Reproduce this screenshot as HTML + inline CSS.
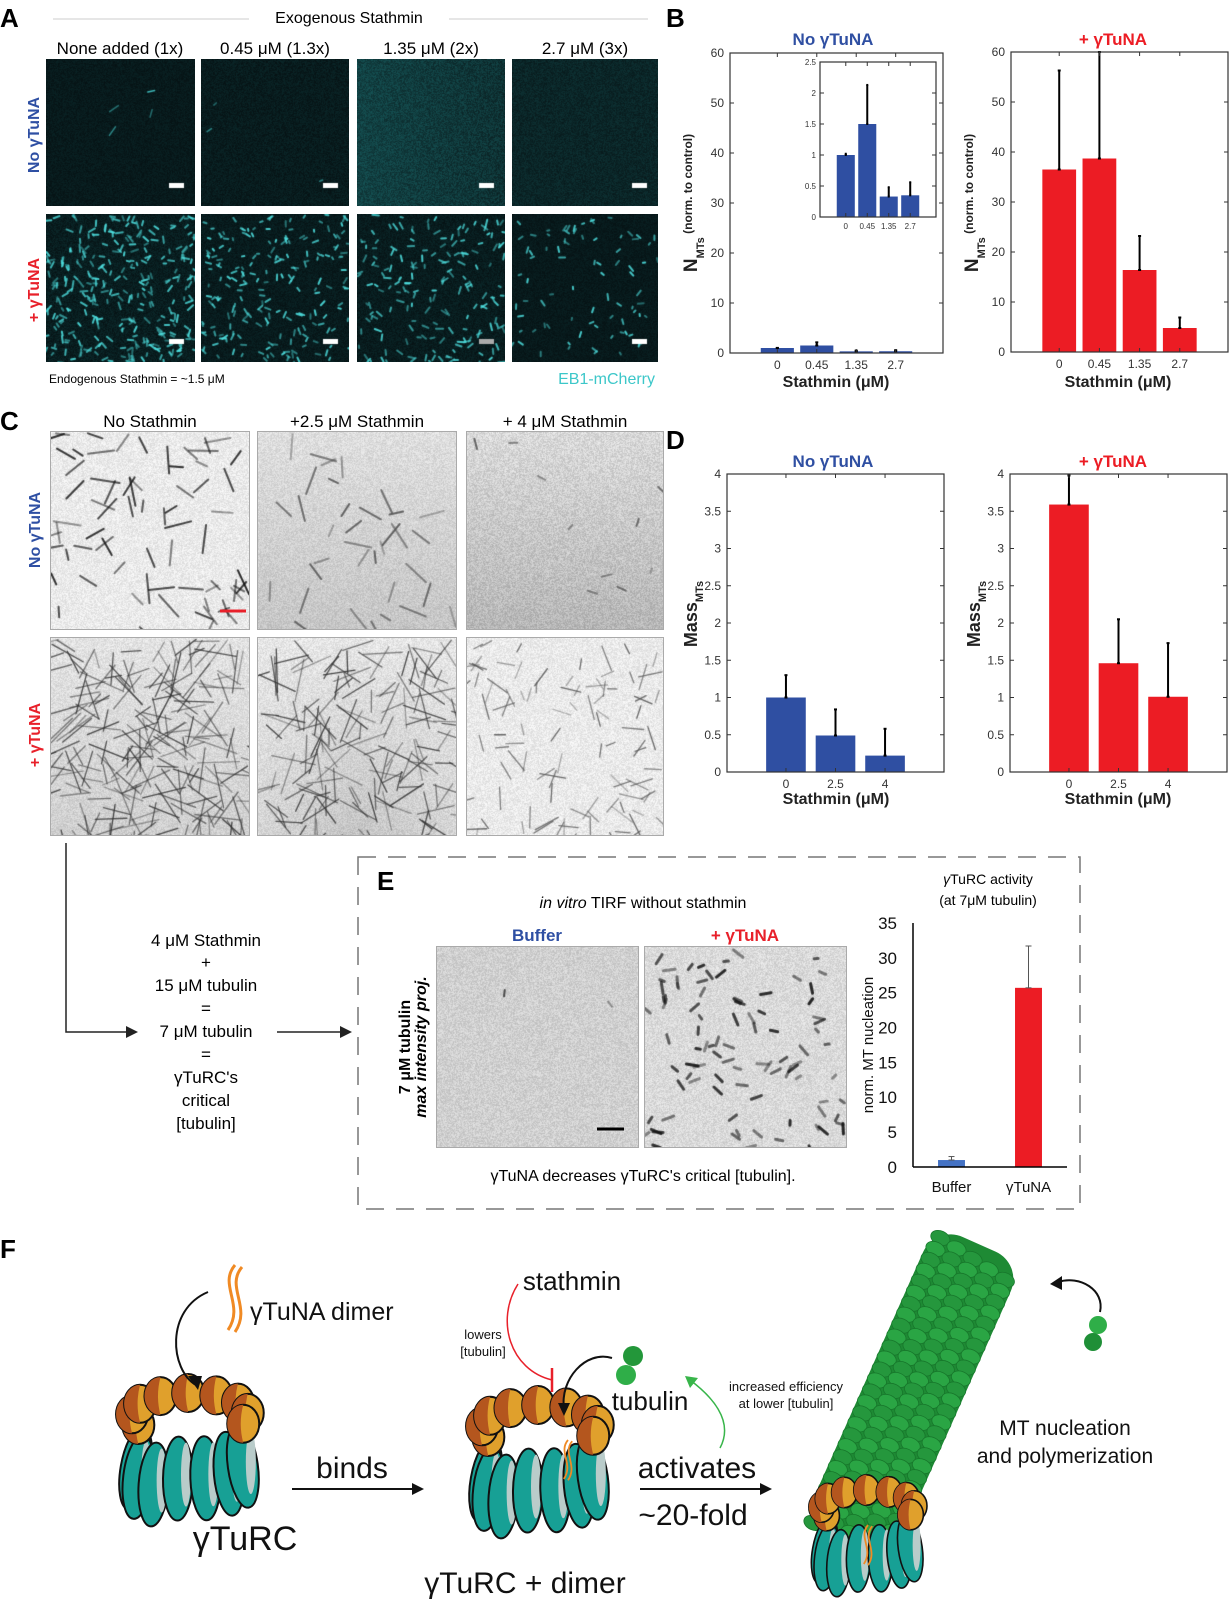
<!DOCTYPE html>
<html><head><meta charset="utf-8">
<style>
html,body{margin:0;padding:0;background:#fff;}
#root{position:relative;width:1231px;height:1599px;overflow:hidden;font-family:"Liberation Sans",sans-serif;}
canvas{position:absolute;}
svg{position:absolute;left:0;top:0;}
</style></head>
<body>
<div id="root">
<canvas id="a00" width="149" height="147" style="left:46px;top:59px"></canvas>
<canvas id="a01" width="148" height="147" style="left:201px;top:59px"></canvas>
<canvas id="a02" width="148" height="147" style="left:357px;top:59px"></canvas>
<canvas id="a03" width="146" height="147" style="left:512px;top:59px"></canvas>
<canvas id="a10" width="149" height="148" style="left:46px;top:214px"></canvas>
<canvas id="a11" width="148" height="148" style="left:201px;top:214px"></canvas>
<canvas id="a12" width="148" height="148" style="left:357px;top:214px"></canvas>
<canvas id="a13" width="146" height="148" style="left:512px;top:214px"></canvas>
<canvas id="c00" width="198" height="197" style="left:51px;top:432px;outline:1px solid #aaa"></canvas>
<canvas id="c01" width="198" height="197" style="left:258px;top:432px;outline:1px solid #aaa"></canvas>
<canvas id="c02" width="196" height="197" style="left:467px;top:432px;outline:1px solid #aaa"></canvas>
<canvas id="c10" width="198" height="197" style="left:51px;top:638px;outline:1px solid #aaa"></canvas>
<canvas id="c11" width="198" height="197" style="left:258px;top:638px;outline:1px solid #aaa"></canvas>
<canvas id="c12" width="196" height="197" style="left:467px;top:638px;outline:1px solid #aaa"></canvas>
<canvas id="e0" width="201" height="200" style="left:437px;top:947px;outline:1px solid #aaa"></canvas>
<canvas id="e1" width="201" height="200" style="left:645px;top:947px;outline:1px solid #aaa"></canvas>
<svg id="svg" width="1231" height="1599" viewBox="0 0 1231 1599" font-family="Liberation Sans, sans-serif">
<text x="0" y="27" font-size="26" font-weight="bold">A</text>
<line x1="53" y1="19" x2="249" y2="19" stroke="#ccc"/>
<line x1="449" y1="19" x2="648" y2="19" stroke="#ccc"/>
<text x="349" y="23" font-size="16" text-anchor="middle">Exogenous Stathmin</text>
<text x="120" y="54" font-size="17" text-anchor="middle">None added (1x)</text>
<text x="275" y="54" font-size="17" text-anchor="middle">0.45 μM (1.3x)</text>
<text x="431" y="54" font-size="17" text-anchor="middle">1.35 μM (2x)</text>
<text x="585" y="54" font-size="17" text-anchor="middle">2.7 μM (3x)</text>
<text transform="translate(39,135) rotate(-90)" font-size="16" font-weight="bold" fill="#2e4fa3" text-anchor="middle">No γTuNA</text>
<text transform="translate(39,290) rotate(-90)" font-size="16" font-weight="bold" fill="#e8202a" text-anchor="middle">+ γTuNA</text>
<text x="49" y="383" font-size="12">Endogenous Stathmin = ~1.5 μM</text>
<text x="655" y="384" font-size="16" fill="#3cc7c9" text-anchor="end">EB1-mCherry</text>
<text x="666" y="27" font-size="26" font-weight="bold">B</text>
<text x="0" y="430" font-size="26" font-weight="bold">C</text>
<text x="666" y="449" font-size="26" font-weight="bold">D</text>
<text x="150" y="427" font-size="17" text-anchor="middle">No Stathmin</text>
<text x="357" y="427" font-size="17" text-anchor="middle">+2.5 μM Stathmin</text>
<text x="565" y="427" font-size="17" text-anchor="middle">+ 4 μM Stathmin</text>
<text transform="translate(40,530) rotate(-90)" font-size="16" font-weight="bold" fill="#2e4fa3" text-anchor="middle">No γTuNA</text>
<text transform="translate(40,735) rotate(-90)" font-size="16" font-weight="bold" fill="#e8202a" text-anchor="middle">+ γTuNA</text>
<line x1="220" y1="611" x2="246" y2="611" stroke="#e8202a" stroke-width="3"/>
<polyline points="66,843 66,1032 130,1032" fill="none" stroke="#222" stroke-width="1.5"/>
<polygon points="138,1032 126,1026 126,1038" fill="#222"/>
<line x1="277" y1="1032" x2="344" y2="1032" stroke="#222" stroke-width="1.5"/>
<polygon points="352,1032 340,1026 340,1038" fill="#222"/>
<g font-size="17" text-anchor="middle">
<text x="206" y="946">4 μM Stathmin</text><text x="206" y="968">+</text><text x="206" y="991">15 μM tubulin</text><text x="206" y="1014">=</text><text x="206" y="1037">7 μM tubulin</text><text x="206" y="1060">=</text><text x="206" y="1083">γTuRC's</text><text x="206" y="1106">critical</text><text x="206" y="1129">[tubulin]</text>
</g>
<rect x="358" y="857" width="722" height="352" fill="none" stroke="#777" stroke-width="1.5" stroke-dasharray="18,12"/>
<text x="377" y="890" font-size="26" font-weight="bold">E</text>
<text x="643" y="908" font-size="16" text-anchor="middle"><tspan font-style="italic">in vitro</tspan> TIRF without stathmin</text>
<text x="537" y="941" font-size="17" font-weight="bold" fill="#2e4fa3" text-anchor="middle">Buffer</text>
<text x="745" y="941" font-size="17" font-weight="bold" fill="#e8202a" text-anchor="middle">+ γTuNA</text>
<text transform="translate(410,1047) rotate(-90)" font-size="16" font-weight="bold" text-anchor="middle">7 μM tubulin</text>
<text transform="translate(426,1047) rotate(-90)" font-size="16" font-weight="bold" font-style="italic" text-anchor="middle">max intensity proj.</text>
<line x1="597" y1="1129" x2="624" y2="1129" stroke="#000" stroke-width="3"/>
<text x="643" y="1181" font-size="16" text-anchor="middle">γTuNA decreases γTuRC's critical [tubulin].</text>
<text x="988" y="884" font-size="14" text-anchor="middle"><tspan font-style="italic">γ</tspan>TuRC activity</text>
<text x="988" y="905" font-size="14" text-anchor="middle">(at 7μM tubulin)</text>
<g id="charts"></g>
<text x="0" y="1258" font-size="26" font-weight="bold">F</text>
<g id="diagram"></g>
</svg>
</div>
<script>
const bCats = ['0','0.45','1.35','2.7'];
const bNoVals = [1.0, 1.5, 0.33, 0.35];
const bNoErr = [1.02, 2.13, 0.48, 0.56];
const bPlusVals = [36.5, 38.7, 16.4, 4.8];
const bPlusErr = [56.3, 60.0, 23.2, 6.9];
const bTicks = [0,10,20,30,40,50,60];
const insetTicks = [0,0.5,1,1.5,2,2.5];
const dCats = ['0','2.5','4'];
const dNoVals = [1.0, 0.49, 0.22];
const dNoErr = [1.3, 0.84, 0.58];
const dPlusVals = [3.59, 1.46, 1.01];
const dPlusErr = [3.98, 2.05, 1.73];
const dTicks = [0,0.5,1,1.5,2,2.5,3,3.5,4];
const eCats = ['Buffer','γTuNA'];
const eVals = [1.0, 25.7];
const eErr = [1.5, 31.7];
const eTicks = [0,5,10,15,20,25,30,35];

const NS='http://www.w3.org/2000/svg';
const BLUE='#2f4fa2', RED='#ec1c24';
function mk(tag, attrs, parent){const e=document.createElementNS(NS,tag);for(const k in attrs)e.setAttribute(k,attrs[k]);if(parent)parent.appendChild(e);return e;}
const charts=document.getElementById('charts');

function barChart(o, cats, vals, errs, ticks){
  const g=mk('g',{},charts);
  
  
  const sx=v=>o.x0+(v-o.xmin)/(o.xmax-o.xmin)*(o.x1-o.x0);
  const sy=v=>o.y1-(v-o.ymin)/(o.ymax-o.ymin)*(o.y1-o.y0);
  if(o.inset){ mk('rect',{x:o.x0,y:o.y0,width:o.x1-o.x0,height:o.y1-o.y0,fill:'#fff'},g); }
  cats.forEach((c,i)=>{
    const xc=sx(i+(o.first||1));
    const bw=(sx(o.bw)-sx(0));
    const r=mk('rect',{x:xc-bw/2,y:sy(vals[i]),width:bw,height:sy(0)-sy(vals[i]),fill:o.colors?o.colors[i]:o.color},g);
    
    
    const el=mk('line',{x1:xc,x2:xc,y1:sy(vals[i]),y2:sy(errs[i]),stroke:o.errColor||'#000','stroke-width':o.errW||2},g);
    
    
    mk('line',{x1:xc-(o.cap||1.5),x2:xc+(o.cap||1.5),y1:sy(errs[i]),y2:sy(errs[i]),stroke:o.errColor||'#000','stroke-width':o.errW||2},g);
    mk('line',{x1:xc-(o.cap||1.5),x2:xc+(o.cap||1.5),y1:sy(vals[i]),y2:sy(vals[i]),stroke:o.errColor||'#000','stroke-width':o.errW||2},g);
    const t=mk('text',{x:xc,y:o.y1+o.xlOff,'font-size':o.xfs,'text-anchor':'middle',fill:o.tickColor||'#333'},g);
    t.textContent=c;
    
    
    if(o.box){
      mk('line',{x1:xc,x2:xc,y1:o.y1,y2:o.y1-4,stroke:'#333'},g);
      mk('line',{x1:xc,x2:xc,y1:o.y0,y2:o.y0+4,stroke:'#333'},g);
    }
  });
  ticks.forEach(v=>{
    const y=sy(v);
    const t=mk('text',{x:o.x0-o.ylOff,y:y+o.yfs*0.35,'font-size':o.yfs,'text-anchor':'end',fill:o.tickColor||'#333'},g);
    t.textContent=String(v);
    
    
    if(o.box){
      mk('line',{x1:o.x0,x2:o.x0+4,y1:y,y2:y,stroke:'#333'},g);
      mk('line',{x1:o.x1,x2:o.x1-4,y1:y,y2:y,stroke:'#333'},g);
    }
  });
  if(o.box){
    const b=mk('rect',{x:o.x0,y:o.y0,width:o.x1-o.x0,height:o.y1-o.y0,fill:'none',stroke:'#333','stroke-width':1.2},g);
    
    
  } else {
    mk('line',{x1:o.x0,x2:o.x0,y1:o.y0,y2:o.y1,stroke:'#000','stroke-width':1.5},g);
    mk('line',{x1:o.x0,x2:o.x1,y1:o.y1,y2:o.y1,stroke:'#000','stroke-width':1.5},g);
  }
  return g;
}

function title(x,y,txt,color,name){const t=mk('text',{x:x,y:y,'font-size':17,'font-weight':'bold','text-anchor':'middle',fill:color},charts);t.textContent=txt;
  
  }
function xlabel(x,y,name){const t=mk('text',{x:x,y:y,'font-size':16,'font-weight':'bold','text-anchor':'middle',fill:'#222'},charts);t.textContent='Stathmin (μM)';
  
  }
function nlabel(x,y,name){
  const t=mk('text',{transform:`translate(${x},${y}) rotate(-90)`,'text-anchor':'middle',fill:'#222','font-weight':'bold'},charts);
  t.innerHTML='<tspan font-size="19">N</tspan><tspan font-size="11" dy="7">MTs</tspan><tspan font-size="12" dy="-12"> (norm. to control)</tspan>';
  
  
}
function masslabel(x,y,name){
  const t=mk('text',{transform:`translate(${x},${y}) rotate(-90)`,'text-anchor':'middle',fill:'#222','font-weight':'bold'},charts);
  t.innerHTML='<tspan font-size="18">Mass</tspan><tspan font-size="11" dy="6">MTs</tspan>';
  
  
}

title(833,45,'No γTuNA',BLUE,'b-title-no-ytuna');
title(1113,45,'+ γTuNA',RED,'b-title-ytuna');
barChart({name:'chart-b-no-ytuna',x0:730,x1:943,y0:53,y1:353,xmin:-0.2,xmax:5.2,ymin:0,ymax:60,bw:0.84,color:BLUE,box:true,xfs:12,yfs:12,xlOff:16,ylOff:6,cap:1.5,errW:2},bCats,bNoVals,bNoErr,bTicks);
barChart({name:'chart-b-inset',inset:true,x0:820,x1:936,y0:62,y1:217,xmin:-0.2,xmax:5.2,ymin:0,ymax:2.5,bw:0.84,color:BLUE,box:true,xfs:8,yfs:8,xlOff:12,ylOff:4,cap:1,errW:2},bCats,bNoVals,bNoErr,insetTicks);
barChart({name:'chart-b-ytuna',x0:1011,x1:1228,y0:52,y1:352,xmin:-0.2,xmax:5.2,ymin:0,ymax:60,bw:0.84,color:RED,box:true,xfs:12,yfs:12,xlOff:16,ylOff:6,cap:1.5,errW:2},bCats,bPlusVals,bPlusErr,bTicks);
nlabel(697,203,'b-y-axis-title-1');
nlabel(978,203,'b-y-axis-title-2');
xlabel(836,387,'b-x-axis-title-1');
xlabel(1118,387,'b-x-axis-title-2');
title(833,467,'No γTuNA',BLUE,'d-title-no-ytuna');
title(1113,467,'+ γTuNA',RED,'d-title-ytuna');
barChart({name:'chart-d-no-ytuna',x0:727,x1:944,y0:474,y1:772,xmin:-0.19,xmax:4.19,ymin:0,ymax:4,bw:0.8,color:BLUE,box:true,xfs:12,yfs:12,xlOff:16,ylOff:6,cap:1.5,errW:2},dCats,dNoVals,dNoErr,dTicks);
barChart({name:'chart-d-ytuna',x0:1010,x1:1227,y0:474,y1:772,xmin:-0.19,xmax:4.19,ymin:0,ymax:4,bw:0.8,color:RED,box:true,xfs:12,yfs:12,xlOff:16,ylOff:6,cap:1.5,errW:2},dCats,dPlusVals,dPlusErr,dTicks);
masslabel(697,614,'d-y-axis-title-1');
masslabel(980,614,'d-y-axis-title-2');
xlabel(836,804,'d-x-axis-title-1');
xlabel(1118,804,'d-x-axis-title-2');
barChart({name:'chart-e-activity',x0:913,x1:1067,y0:923,y1:1167,xmin:0,xmax:2,first:0.5,ymin:0,ymax:35,bw:0.35,colors:['#4472c4',RED],box:false,xfs:15,yfs:17,xlOff:25,ylOff:16,cap:3,errW:1,errColor:'#555',tickColor:'#111'},eCats,eVals,eErr,eTicks);
(function(){const t=mk('text',{transform:'translate(873,1045) rotate(-90)','font-size':15,'text-anchor':'middle',fill:'#111'},charts);t.textContent='norm. MT nucleation';

})();

function rng(seed){let s=seed>>>0;return ()=>{s=(s*1664525+1013904223)>>>0;return s/4294967296;};}
function texture(id, seed, bg, noiseAmp, noiseCol, streaks, streakCol, len, width, dark, gradient){
  const c=document.getElementById(id), ctx=c.getContext('2d'), W=c.width, H=c.height, R=rng(seed);
  const img=ctx.createImageData(W,H);
  for(let y=0;y<H;y++)for(let x=0;x<W;x++){
    const i=(y*W+x)*4; let n=R()*noiseAmp;
    let gfac=gradient?gradient(x/W,y/H):0;
    for(let k=0;k<3;k++){img.data[i+k]=Math.max(0,Math.min(255,bg[k]+ (dark?-1:1)*(n+gfac)*noiseCol[k]));}
    img.data[i+3]=255;
  }
  ctx.putImageData(img,0,0);
  ctx.strokeStyle=streakCol; ctx.lineWidth=width; ctx.lineCap='round';
  for(let s=0;s<streaks;s++){
    const x=R()*W,y=R()*H,a=R()*Math.PI,l=len*(0.4+R()*0.8);
    ctx.globalAlpha=0.4+R()*0.5;
    ctx.beginPath();ctx.moveTo(x,y);ctx.lineTo(x+Math.cos(a)*l,y+Math.sin(a)*l);ctx.stroke();
  }
  ctx.globalAlpha=1;
  return ctx;
}
const teal=[6,18,20], tn=[0.2,0.9,0.9];
texture('a00',1,teal,18,tn,4,'#48d6d6',9,1.5,false);
texture('a01',2,teal,22,tn,3,'#48d6d6',5,1.5,false);
texture('a02',3,[10,32,34],40,tn,0,'#48d6d6',5,1.5,false,(x,y)=>18*(1-x));
texture('a03',4,[8,26,28],26,tn,0,'#48d6d6',5,1.5,false);
texture('a10',5,teal,25,tn,300,'#4ee0e0',6,2,false);
texture('a11',6,teal,20,tn,210,'#4ee0e0',5,2,false);
texture('a12',7,teal,22,tn,180,'#4ee0e0',6,2,false);
texture('a13',8,teal,16,tn,80,'#4ee0e0',5,2,false);
[['a00',0],['a01',0],['a02',0],['a03',0],['a10',0],['a11',0],['a12',1],['a13',0]].forEach(([id,g])=>{
  const c=document.getElementById(id),ctx=c.getContext('2d');ctx.fillStyle=g?'#aaa':'#fff';ctx.fillRect(c.width-26,c.height-23,15,5);});
const wb=[252,252,252], gn=[1,1,1];
texture('c00',11,wb,35,gn,70,'#111',25,2,true);
texture('c01',12,[240,240,240],35,gn,35,'#555',24,2,true,(x,y)=>25*y);
texture('c02',13,[240,240,240],45,gn,10,'#555',10,2,true,(x,y)=>35*y);
texture('c10',14,[245,245,245],35,gn,210,'#333',40,1.3,true,(x,y)=>20*y);
texture('c11',15,[248,248,248],35,gn,160,'#333',38,1.3,true,(x,y)=>35*y*(1-Math.abs(x-0.5)));
texture('c12',16,wb,35,gn,100,'#555',22,1.3,true);
texture('e0',21,[228,228,228],40,gn,2,'#333',6,2,true);
texture('e1',22,[238,238,238],40,gn,90,'#111',10,3,true);

const D=document.getElementById('diagram');
function txt(x,y,s,fs,name,anchor,color){const t=mk('text',{x:x,y:y,'font-size':fs,'text-anchor':anchor||'middle',fill:color||'#111'},D);t.textContent=s;
  
  return t;}
function ring(cx,cy,sc,name){
  const g=mk('g',{transform:`translate(${cx},${cy}) scale(${sc})`},D);
  
  
  for(let i=0;i<7;i++){
    const a=Math.PI*(1.05-i*0.16);
    const x=55*Math.cos(a), y=10+18*Math.sin(a)+ (i<3?10:0);
    mk('ellipse',{cx:x,cy:y+18,rx:15,ry:42,fill:'#17a095',stroke:'#111','stroke-width':2,transform:`rotate(${10-i*3},${x},${y+18})`},g);
    mk('ellipse',{cx:x+8,cy:y+14,rx:5,ry:32,fill:'#b9ccca'},g);
  }
  for(let i=0;i<9;i++){
    const a=Math.PI*(1.15-i*0.16);
    const x=58*Math.cos(a), y=-18-22*Math.sin(a);
    mk('ellipse',{cx:x,cy:y,rx:16,ry:19,fill:'#e0a02c',stroke:'#111','stroke-width':2},g);
    mk('path',{d:`M${x},${y-19} A16,19 0 0,0 ${x},${y+19} Q${x-5},${y} ${x},${y-19}Z`,fill:'#b4561e'},g);
  }
  return g;
}
ring(190,1433,1,'ytrc-ring-1');
ring(540,1445,1,'ytrc-ring-2');
function dimer(x,y,s,name){const g=mk('g',{transform:`translate(${x},${y}) scale(${s})`,fill:'none',stroke:'#f08a24','stroke-width':3},D);
  
  
  mk('path',{d:'M5,0 C-12,20 15,40 -2,65'},g);mk('path',{d:'M12,2 C-5,22 22,42 5,67'},g);}
dimer(230,1265,1,'ytuna-dimer-icon');
dimer(565,1440,0.6,'ytuna-dimer-bound');
txt(250,1320,'γTuNA dimer',25,'ytuna-dimer-label','start');
mk('path',{d:'M208,1292 C165,1310 170,1370 196,1385',fill:'none',stroke:'#111','stroke-width':2},D);
mk('polygon',{points:'198,1390 188,1376 202,1376',fill:'#111'},D);
txt(245,1550,'γTuRC',34,'ytrc-label');
txt(352,1478,'binds',30,'binds-label');
mk('line',{x1:292,y1:1489,x2:414,y2:1489,stroke:'#111','stroke-width':2},D);
mk('polygon',{points:'424,1489 412,1483 412,1495',fill:'#111'},D);
txt(525,1593,'γTuRC + dimer',30,'ytrc-dimer-label');
txt(572,1290,'stathmin',26,'stathmin-label');
mk('path',{d:'M518,1284 C495,1320 510,1370 552,1380',fill:'none',stroke:'#e8202a','stroke-width':1.5},D);
mk('line',{x1:552,y1:1368,x2:552,y2:1392,stroke:'#e8202a','stroke-width':2.5},D);
txt(483,1339,'lowers',13,'lowers-label');
txt(483,1356,'[tubulin]',13,'lowers-label-2');
mk('path',{d:'M612,1358 C585,1350 560,1380 564,1408',fill:'none',stroke:'#111','stroke-width':2},D);
mk('polygon',{points:'564,1416 558,1403 570,1403',fill:'#111'},D);
mk('circle',{cx:633,cy:1356,r:10,fill:'#23973a'},D);
mk('circle',{cx:626,cy:1375,r:10,fill:'#2fae48'},D);
txt(650,1410,'tubulin',26,'tubulin-label');
mk('path',{d:'M720,1448 C735,1420 710,1395 690,1380',fill:'none',stroke:'#38b54a','stroke-width':1.5},D);
mk('polygon',{points:'685,1376 698,1378 690,1388',fill:'#38b54a'},D);
txt(786,1391,'increased efficiency',13,'efficiency-label');
txt(786,1408,'at lower [tubulin]',13,'efficiency-label-2');
txt(697,1478,'activates',30,'activates-label');
mk('line',{x1:640,y1:1489,x2:762,y2:1489,stroke:'#111','stroke-width':2},D);
mk('polygon',{points:'772,1489 760,1483 760,1495',fill:'#111'},D);
txt(693,1525,'~20-fold',30,'fold-label');
(function(){
  const g=mk('g',{transform:'translate(912,1395) rotate(24)'},D);
  
  
  mk('rect',{x:-48,y:-165,width:96,height:330,rx:30,fill:'#1e8a34'},g);
  for(let r=0;r<27;r++)for(let c=0;c<5;c++){
    mk('ellipse',{cx:-38+c*19,cy:-155+r*12+c*3,rx:10,ry:7,fill:(r+c)%2?'#2aa544':'#25973d',stroke:'#17772b','stroke-width':0.8},g);
  }
})();
ring(868,1522,0.8,'ytrc-ring-3');
dimer(865,1525,0.6,'ytuna-dimer-mt');
txt(1065,1435,'MT nucleation',21,'mt-nucleation-label');
txt(1065,1463,'and polymerization',21,'mt-polymerization-label');
mk('path',{d:'M1100,1312 C1105,1290 1080,1275 1058,1282',fill:'none',stroke:'#111','stroke-width':2},D);
mk('polygon',{points:'1050,1284 1062,1276 1062,1290',fill:'#111'},D);
mk('circle',{cx:1098,cy:1325,r:9,fill:'#2fae48'},D);
mk('circle',{cx:1093,cy:1342,r:9,fill:'#1f8f37'},D);
</script>
</body></html>
